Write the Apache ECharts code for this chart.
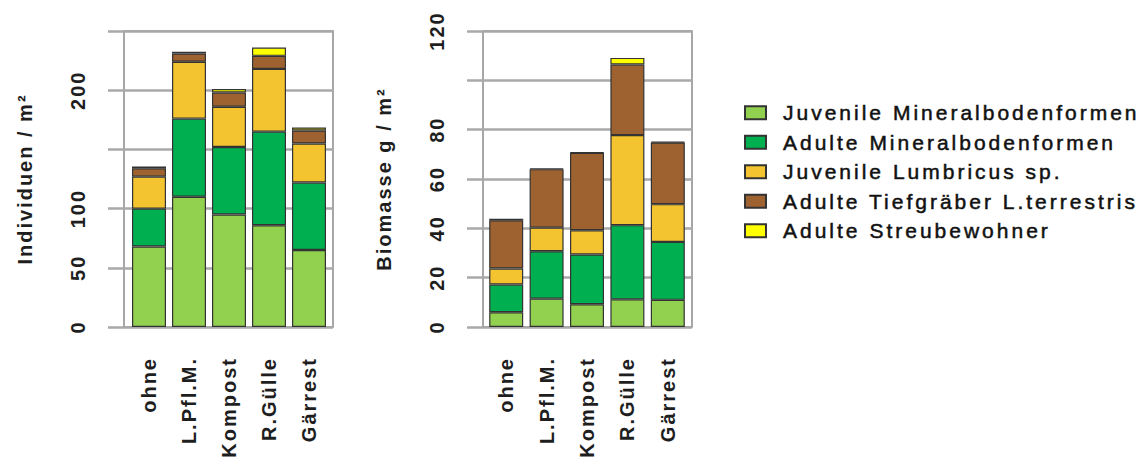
<!DOCTYPE html>
<html>
<head>
<meta charset="utf-8">
<script src="https://cdn.jsdelivr.net/npm/echarts@6/dist/echarts.min.js"></script>
<style>
  html, body { margin: 0; padding: 0; background: #ffffff; }
  #chart { width: 1143px; height: 461px; }
  #chart text { letter-spacing: 3px; }
  #chart text[style*="bold"] { letter-spacing: 2px; }
</style>
</head>
<body>
<div id="chart"></div>
<script>
// ---- data ----
const categories = ['ohne', 'L.Pfl.M.', 'Kompost', 'R.Gülle', 'Gärrest'];
const seriesNames = [
  'Juvenile Mineralbodenformen',
  'Adulte Mineralbodenformen',
  'Juvenile Lumbricus sp.',
  'Adulte Tiefgräber L.terrestris',
  'Adulte Streubewohner'
];
// Individuen / m²
const indJuvMin   = [68, 110, 95, 86, 65];
const indAdMin    = [32, 66, 57, 79, 57];
const indJuvLum   = [27, 48, 34, 53, 33];
const indAdTief   = [7, 7, 12, 11, 11];
const indAdStreu  = [1.5, 1.5, 3, 7, 2.5];
// Biomasse g / m²
const bioJuvMin   = [6, 11.5, 9.2, 11.2, 11];
const bioAdMin    = [11.2, 19.2, 20.2, 30.1, 23.5];
const bioJuvLum   = [6.5, 9.6, 9.8, 36.5, 15.3];
const bioAdTief   = [19.6, 23.7, 31.4, 28.6, 25];
const bioAdStreu  = [0.6, 0.3, 0.2, 2.7, 0.3];
// tick labels
const indTickLabels = [0, 50, 100, 200];
const bioTickLabels = [0, 20, 40, 60, 80, 120];

const colors = ['#92D050', '#00B050', '#F4C430', '#9E6230', '#FFFF00'];
const FONT = 'Liberation Sans';
const TEXT = '#1e1e1e';
const GRIDC = '#a9a9a9';

const indData = [indJuvMin, indAdMin, indJuvLum, indAdTief, indAdStreu];
const bioData = [bioJuvMin, bioAdMin, bioJuvLum, bioAdTief, bioAdStreu];

function frameY(max, interval, labels, name) {
  return {
    type: 'value', min: 0, max: max, interval: interval,
    name: name, nameLocation: 'middle', nameGap: 89,
    nameTextStyle: { fontFamily: FONT, fontSize: 20, fontWeight: 'bold', color: TEXT },
    axisLine: { show: false },
    axisTick: { show: true, length: 16, lineStyle: { color: GRIDC, width: 2.5 } },
    axisLabel: {
      rotate: 90, margin: 36, fontFamily: FONT, fontSize: 20, fontWeight: 'bold', color: TEXT,
      formatter: v => labels.includes(v) ? String(v) : ''
    },
    splitLine: { show: true, lineStyle: { color: GRIDC, width: 2.5 } }
  };
}
function hiddenY(max) {
  return { type: 'value', min: 0, max: max, show: false, splitLine: { show: false } };
}
function hiddenX() {
  return { type: 'category', data: categories, show: false };
}
function barX() {
  return {
    type: 'category', data: categories,
    axisLine: { show: false }, axisTick: { show: false },
    axisLabel: { rotate: 90, margin: 30, fontFamily: FONT, fontSize: 20, fontWeight: 'bold', color: TEXT, interval: 0 }
  };
}

const series = [];
seriesNames.forEach((n, i) => {
  series.push({
    name: n, type: 'bar', stack: 'ind', xAxisIndex: 1, yAxisIndex: 1,
    barWidth: 34, data: indData[i],
    itemStyle: { color: colors[i], borderColor: '#333333', borderWidth: 1.2 },
    emphasis: { disabled: true }
  });
});
seriesNames.forEach((n, i) => {
  series.push({
    name: n, type: 'bar', stack: 'bio', xAxisIndex: 3, yAxisIndex: 3,
    barWidth: 34, data: bioData[i],
    itemStyle: { color: colors[i], borderColor: '#333333', borderWidth: 1.2 },
    emphasis: { disabled: true }
  });
});

const chart = echarts.init(document.getElementById('chart'), null, { renderer: 'svg' });
chart.setOption({
  animation: false,
  backgroundColor: '#ffffff',
  textStyle: { fontFamily: FONT },
  grid: [
    { left: 124, top: 31, width: 209, height: 296, show: true, borderColor: '#8a8a8a', borderWidth: 1.5, containLabel: false },
    { left: 129, top: 31, width: 200, height: 296, containLabel: false },
    { left: 483, top: 31, width: 209, height: 296, show: true, borderColor: '#8a8a8a', borderWidth: 1.5, containLabel: false },
    { left: 486, top: 31, width: 202, height: 296, containLabel: false }
  ],
  xAxis: [
    Object.assign(hiddenX(), { gridIndex: 0 }),
    Object.assign(barX(), { gridIndex: 1 }),
    Object.assign(hiddenX(), { gridIndex: 2 }),
    Object.assign(barX(), { gridIndex: 3 })
  ],
  yAxis: [
    Object.assign(frameY(250, 50, indTickLabels, 'Individuen / m²'), { gridIndex: 0 }),
    Object.assign(hiddenY(250), { gridIndex: 1 }),
    Object.assign(frameY(120, 20, bioTickLabels, 'Biomasse g / m²'), { gridIndex: 2 }),
    Object.assign(hiddenY(120), { gridIndex: 3 })
  ],
  legend: {
    data: seriesNames, orient: 'vertical', left: 739, top: 97,
    itemWidth: 21, itemHeight: 13, itemGap: 8, icon: 'rect',
    selectedMode: false,
    textStyle: {
      fontFamily: FONT, fontSize: 21, lineHeight: 20, color: '#111111',
      textBorderColor: '#111111', textBorderWidth: 0.5,
      padding: [0, 0, 0, 12]
    }
  },
  series: series
});
</script>
</body>
</html>
